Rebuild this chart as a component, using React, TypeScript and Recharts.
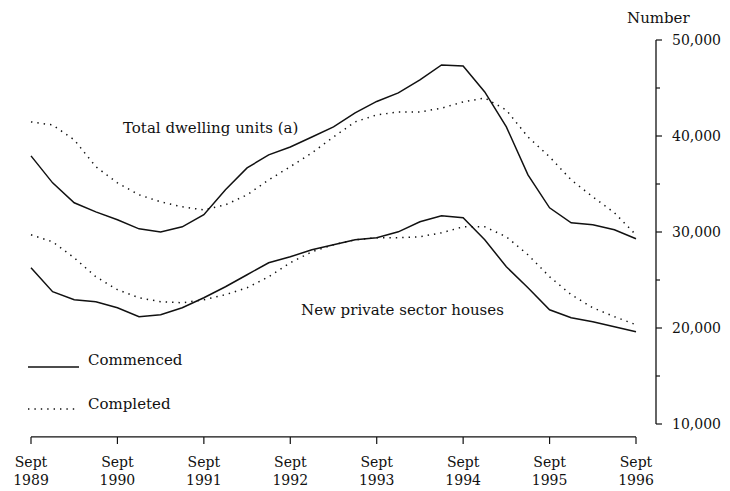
import React from 'react';
import { LineChart, Line, XAxis, YAxis, ReferenceLine } from 'recharts';

const quarters = [
  'Sep 1989', 'Dec 1989', 'Mar 1990', 'Jun 1990', 'Sep 1990', 'Dec 1990', 'Mar 1991', 'Jun 1991',
  'Sep 1991', 'Dec 1991', 'Mar 1992', 'Jun 1992', 'Sep 1992', 'Dec 1992', 'Mar 1993', 'Jun 1993',
  'Sep 1993', 'Dec 1993', 'Mar 1994', 'Jun 1994', 'Sep 1994', 'Dec 1994', 'Mar 1995', 'Jun 1995',
  'Sep 1995', 'Dec 1995', 'Mar 1996', 'Jun 1996', 'Sep 1996',
];

const totalCommenced = [
  37930, 35120, 33040, 32100, 31270, 30330, 30000, 30540, 31800, 34400, 36680, 38030, 38860, 39900,
  40950, 42400, 43600, 44490, 45840, 47400, 47300, 44590, 40950, 35950, 32520, 30960, 30750, 30230, 29300,
];

const totalCompleted = [
  41470, 41150, 39600, 36800, 35120, 33870, 33140, 32620, 32300, 32830, 33870, 35430, 36800, 38240,
  39900, 41470, 42200, 42500, 42500, 42900, 43550, 43960, 42700, 39900, 37830, 35430, 33660, 32000, 29700,
];

const housesCommenced = [
  26270, 23780, 22940, 22730, 22110, 21180, 21380, 22110, 23150, 24300, 25550, 26800, 27420, 28150,
  28670, 29190, 29400, 30020, 31060, 31690, 31480, 29190, 26380, 24190, 21900, 21070, 20650, 20130, 19610,
];

const housesCompleted = [
  29710, 28980, 27310, 25340, 23990, 23150, 22740, 22630, 22940, 23470, 24190, 25340, 26800, 27940,
  28670, 29190, 29400, 29400, 29500, 29920, 30540, 30540, 29500, 27630, 25340, 23470, 22110, 21180, 20340,
];

const xTickIndex = [0, 4, 8, 12, 16, 20, 24, 28];
const xTickMonth = 'Sept';
const xTickYears = ['1989', '1990', '1991', '1992', '1993', '1994', '1995', '1996'];
const yTicks = [10000, 15000, 20000, 25000, 30000, 35000, 40000, 45000, 50000];
const xAxisBaseValue = 8650;

const data = quarters.map((q, i) => ({
  i,
  q,
  totalCommenced: totalCommenced[i],
  totalCompleted: totalCompleted[i],
  housesCommenced: housesCommenced[i],
  housesCompleted: housesCompleted[i],
}));

const FONT = "'DejaVu Serif', 'Liberation Serif', serif";
const INK = '#111';

function XTick(props: any) {
  const { x, y, payload } = props;
  const k = xTickIndex.indexOf(payload.value);
  return (
    <g>
      <line x1={x} x2={x} y1={y + 13} y2={y + 20} stroke={INK} strokeWidth={1.2} />
      <text x={x} y={y + 43} textAnchor="middle" fontFamily={FONT} fontSize={14} fill={INK}>
        {xTickMonth}
      </text>
      <text x={x} y={y + 61} textAnchor="middle" fontFamily={FONT} fontSize={14} fill={INK}>
        {xTickYears[k]}
      </text>
    </g>
  );
}

function YTick(props: any) {
  const { x, y, payload } = props;
  const major = payload.value % 10000 === 0;
  return (
    <g>
      <line x1={x} x2={x + (major ? 6 : 4)} y1={y} y2={y} stroke={INK} strokeWidth={1.2} />
      {major && (
        <text x={x + 16} y={y} dy="0.36em" textAnchor="start" fontFamily={FONT} fontSize={14} fill={INK}>
          {payload.value.toLocaleString('en-US')}
        </text>
      )}
    </g>
  );
}

const textStyle: React.CSSProperties = {
  position: 'absolute',
  fontFamily: FONT,
  fontSize: 15,
  lineHeight: '18px',
  color: INK,
  whiteSpace: 'nowrap',
};

export default function App() {
  return (
    <div style={{ position: 'absolute', left: 0, top: 0, width: 730, height: 491, background: '#fff' }}>
      <LineChart width={730} height={491} data={data} margin={{ top: 40, right: 4, bottom: 7, left: 31 }}>
        <XAxis
          type="number"
          dataKey="i"
          domain={[0, 28]}
          ticks={xTickIndex}
          interval={0}
          padding={{ left: 0, right: 20 }}
          axisLine={false}
          tickLine={false}
          tickSize={0}
          tickMargin={0}
          height={60}
          tick={<XTick />}
        />
        <YAxis
          orientation="right"
          domain={[10000, 50000]}
          ticks={yTicks}
          interval={0}
          width={70}
          axisLine={{ stroke: INK, strokeWidth: 1.3 }}
          tickLine={false}
          tickSize={0}
          tickMargin={0}
          tick={<YTick />}
        />
        <ReferenceLine
          segment={[
            { x: 0, y: xAxisBaseValue },
            { x: 28, y: xAxisBaseValue },
          ]}
          ifOverflow="visible"
          stroke={INK}
          strokeWidth={1.3}
        />
        <Line type="linear" dataKey="totalCommenced" stroke={INK} strokeWidth={1.5} dot={false} isAnimationActive={false} />
        <Line type="linear" dataKey="totalCompleted" stroke={INK} strokeWidth={1.5} strokeDasharray="1.4 5" dot={false} isAnimationActive={false} />
        <Line type="linear" dataKey="housesCommenced" stroke={INK} strokeWidth={1.5} dot={false} isAnimationActive={false} />
        <Line type="linear" dataKey="housesCompleted" stroke={INK} strokeWidth={1.5} strokeDasharray="1.4 5" dot={false} isAnimationActive={false} />
      </LineChart>

      <div style={{ ...textStyle, left: 627, top: 9 }}>Number</div>
      <div style={{ ...textStyle, left: 123, top: 119 }}>Total dwelling units (a)</div>
      <div style={{ ...textStyle, left: 301, top: 301 }}>New private sector houses</div>

      <svg style={{ position: 'absolute', left: 0, top: 0 }} width={730} height={491} pointerEvents="none">
        <line x1={28} x2={79} y1={367} y2={367} stroke={INK} strokeWidth={1.5} />
        <line x1={28} x2={79} y1={409} y2={409} stroke={INK} strokeWidth={1.5} strokeDasharray="1.4 5" />
      </svg>
      <div style={{ ...textStyle, left: 88, top: 351 }}>Commenced</div>
      <div style={{ ...textStyle, left: 88, top: 395 }}>Completed</div>
    </div>
  );
}
